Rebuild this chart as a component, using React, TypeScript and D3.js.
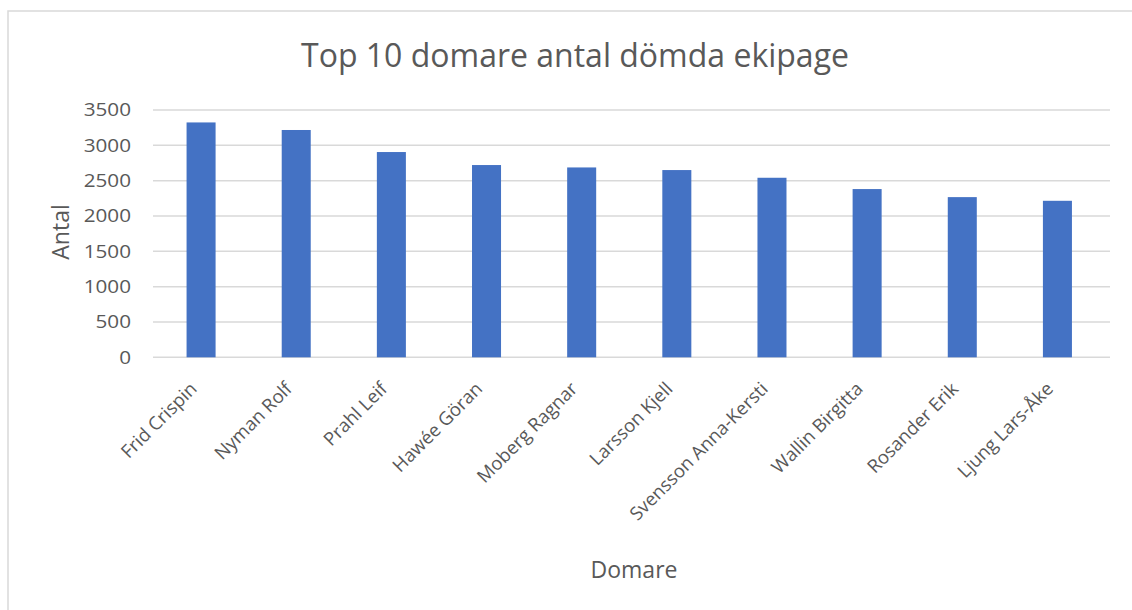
import React from "react";
import * as d3 from "d3";

const categories = [
  "Frid Crispin",
  "Nyman Rolf",
  "Prahl Leif",
  "Hawée Göran",
  "Moberg Ragnar",
  "Larsson Kjell",
  "Svensson Anna-Kersti",
  "Wallin Birgitta",
  "Rosander Erik",
  "Ljung Lars-Åke",
];
const values = [3324, 3217, 2905, 2721, 2687, 2650, 2541, 2381, 2267, 2215];
const yTicks = [0, 500, 1000, 1500, 2000, 2500, 3000, 3500];

const W = 1132;
const H = 610;
const FONT = "'Open Sans', 'Liberation Sans', sans-serif";
const TEXT = "#595959";
const GRID = "#d9d9d9";
const BAR = "#4472C4";

export default function App() {
  const x = d3
    .scaleBand<string>()
    .domain(categories)
    .range([153.5, 1105])
    .paddingInner(0.695)
    .paddingOuter(0.3475);
  const y = d3.scaleLinear().domain([0, 3500]).range([357.3, 110]);

  return (
    <svg
      width={W}
      height={H}
      style={{ position: "absolute", left: 0, top: 0, background: "#fff" }}
    >
      <rect x={0} y={0} width={W} height={H} fill="#fff" />
      <rect
        x={8}
        y={11}
        width={W + 50}
        height={H + 50}
        fill="#fff"
        stroke={GRID}
        strokeWidth={1.5}
      />
      <text
        x={575}
        y={67}
        textAnchor="middle"
        fontFamily={FONT}
        fontSize={32}
        fill={TEXT}
      >
        Top 10 domare antal dömda ekipage
      </text>
      {yTicks.map((t) => (
        <g key={t}>
          <line
            x1={153}
            x2={1110}
            y1={y(t)}
            y2={y(t)}
            stroke={GRID}
            strokeWidth={1.5}
          />
          <g transform={`translate(131,${y(t)}) scale(1.15,1)`}>
            <text
              x={0}
              y={0}
              dy="0.36em"
              textAnchor="end"
              fontFamily={FONT}
              fontSize={18}
              fill={TEXT}
            >
              {t}
            </text>
          </g>
        </g>
      ))}
      {categories.map((c, i) => (
        <rect
          key={c}
          x={x(c)}
          y={y(values[i])}
          width={x.bandwidth()}
          height={y(0) - y(values[i])}
          fill={BAR}
        />
      ))}
      {categories.map((c) => {
        const cx = (x(c) as number) + x.bandwidth() / 2;
        return (
          <text
            key={c}
            transform={`translate(${cx - 3},${390}) rotate(-45)`}
            textAnchor="end"
            fontFamily={FONT}
            fontSize={18.5}
            fill={TEXT}
          >
            {c}
          </text>
        );
      })}
      <text
        transform={`translate(69,232) rotate(-90)`}
        textAnchor="middle"
        fontFamily={FONT}
        fontSize={23}
        fill={TEXT}
      >
        Antal
      </text>
      <text
        x={634}
        y={578}
        textAnchor="middle"
        fontFamily={FONT}
        fontSize={23}
        fill={TEXT}
      >
        Domare
      </text>
    </svg>
  );
}
